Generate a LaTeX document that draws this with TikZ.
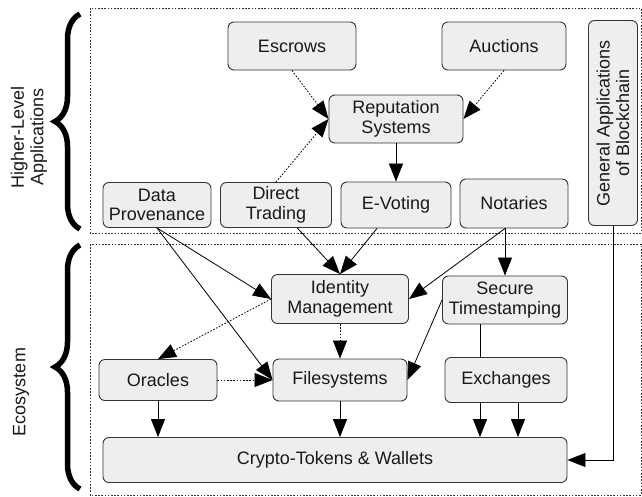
\documentclass[tikz,border=0pt]{standalone}
\usepackage{fontspec}
\setmainfont{Liberation Sans}
\usepackage{xcolor}
\usepackage{tikz}
\usetikzlibrary{arrows.meta,decorations.pathreplacing}
\definecolor{boxfill}{HTML}{EEEEEE}
\definecolor{boxline}{HTML}{333333}
\tikzset{every node/.style={
	inner sep=0pt,
	align=center,
	text=black!90
}}
\tikzset{part/.style={
	draw=boxline,
	fill=boxfill,
	line width=0.9pt,
	rounded corners=6pt,
	font=\fontsize{18}{19.5}\selectfont
}}

\begin{document}
\begin{tikzpicture}[
	x=1pt, y=-1pt,
	link/.style={line width=0.8pt, -{Triangle[length=18pt,width=14pt]}},
	weak/.style={link, dash pattern=on 1.6pt off 1.6pt},
	layer/.style={draw=black!80, line width=0.8pt, dash pattern=on 1.6pt off 1.6pt},
	curly/.style={decorate, decoration={brace, amplitude=25pt}, line width=5.5pt},
	side/.style={rotate=90, font=\fontsize{18}{19.5}\selectfont}
]
\useasboundingbox (0,0) rectangle (642,496);
\draw[layer] (90,8) rectangle (641,233);
\draw[layer] (90,244) rectangle (641,495);
\draw[curly] (80,229) -- (80,14);
\draw[curly] (80,489) -- (80,245);
\node[side] (hla) at (29,137) {Higher-Level\\Applications};
\node[side] (eco) at (21,392) {Ecosystem};

\node[part, minimum width=128, minimum height=48] (esc) at (292,46) {Escrows};
\node[part, minimum width=124, minimum height=48] (auc) at (504,46) {Auctions};
\node[part, minimum width=134, minimum height=48] (rep) at (396,119) {Reputation\\Systems};
\node[part, rotate=90, minimum width=205, minimum height=49] (gen) at (613,123) {General Applications\\of Blockchain};
\node[part, minimum width=108, minimum height=45] (dprov) at (157,205) {Data\\Provenance};
\node[part, minimum width=111, minimum height=45] (dtrad) at (276,205) {Direct\\Trading};
\node[part, minimum width=110, minimum height=46] (evot) at (396,205) {E-Voting};
\node[part, minimum width=108, minimum height=49] (nota) at (514,203.5) {Notaries};
\node[part, minimum width=137, minimum height=49] (idm) at (340,299) {Identity\\Management};
\node[part, minimum width=125, minimum height=48] (sects) at (505,300) {Secure\\Timestamping};
\node[part, minimum width=118, minimum height=41] (orac) at (158,380) {Oracles};
\node[part, minimum width=134, minimum height=42] (files) at (340,380) {Filesystems};
\node[part, minimum width=464, minimum height=45] (crypto) at (335,460) {Crypto-Tokens \& Wallets};

\draw[link] ([xshift=-25pt]sects.south) -- ([xshift=-25pt]sects.south |- crypto.north);
\node[part, minimum width=122, minimum height=45] (exch) at (506,380) {Exchanges};

\draw[weak] (esc.south) -- (rep.west);
\draw[weak] (dtrad.north) -- (rep.west);
\draw[weak] (auc.south) -- (rep.east);
\draw[link] (rep.south) -- (evot.north);
\draw[link] (dprov.south) -- (idm.west);
\draw[link] (dprov.south) -- (files.west);
\draw[link] (dtrad) -- (idm.north);
\draw[link] (evot) -- (idm.north);
\draw[link] (nota.south -| sects.north) -- (sects.north);
\draw[link] (nota.south -| sects.north) -- (idm.east);
\draw[link] (sects.west) -- (files.east);
\draw[weak] (idm.west) -- (orac.north);
\draw[weak] (idm.south) -- (files.north);
\draw[weak] (orac.east) -- (files.west);
\draw[link] (orac.south) -- (orac.south |- crypto.north);
\draw[link] (files.south) -- (files.south |- crypto.north);
\draw[link] ([xshift=12pt]exch.south) -- ([xshift=12pt]exch.south |- crypto.north);
\draw[link] (gen.west) |- (crypto.east);
\end{tikzpicture}
\end{document}
